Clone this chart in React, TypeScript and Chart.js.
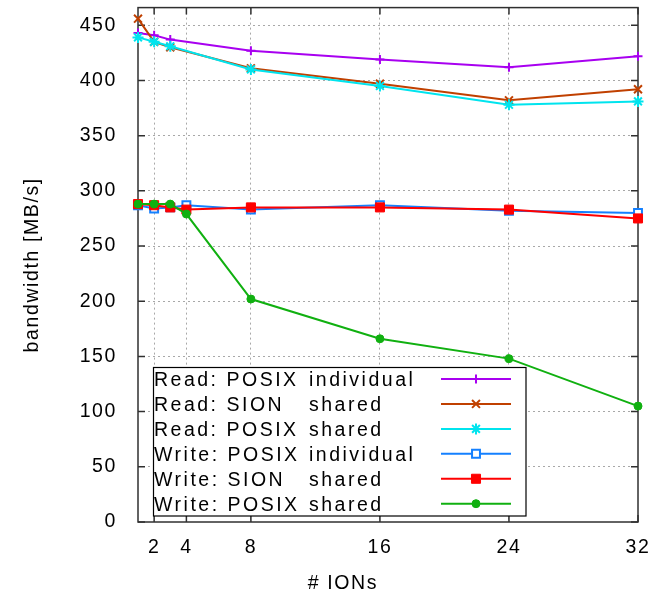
import React, { useEffect, useRef } from "react";
import { Chart, registerables } from "chart.js";

Chart.register(...registerables);

// ---- data ----
const X_READ = [1, 2, 3, 8, 16, 24, 32];
const X_WRITE = [1, 2, 3, 4, 8, 16, 24, 32];
const X_TICKS = [2, 4, 8, 16, 24, 32];
const Y_TICKS = [0, 50, 100, 150, 200, 250, 300, 350, 400, 450];

const READ_POSIX_INDIVIDUAL = [443, 441, 437, 427, 419, 412, 422];
const READ_SION_SHARED = [456, 435, 430, 411, 397, 382, 392];
const READ_POSIX_SHARED = [439, 435, 431, 410, 395, 378, 381];
const WRITE_POSIX_INDIVIDUAL = [287, 284, 285, 287, 283, 287, 282, 280];
const WRITE_SION_SHARED = [288, 287, 285, 283, 285, 285, 283, 275];
const WRITE_POSIX_SHARED = [288, 288, 288, 279, 202, 166, 148, 105];

const SERIES_LABELS = [
  "Read: POSIX individual",
  "Read: SION   shared",
  "Read: POSIX shared",
  "Write: POSIX individual",
  "Write: SION   shared",
  "Write: POSIX shared",
];
const X_TITLE = "# IONs";
const Y_TITLE = "bandwidth [MB/s]";

const FONT = "'Liberation Sans', Arial, Helvetica, sans-serif";
const FONT_SIZE = 19.5;

type Marker = { style: string; radius: number; fill: string; borderWidth: number };

const COLORS = ["#a800f0", "#c04000", "#00e4ee", "#1480ff", "#ff0000", "#10b010"];
const MARKERS: Marker[] = [
  { style: "cross", radius: 4.5, fill: "#a800f0", borderWidth: 2 },
  { style: "crossRot", radius: 5.6, fill: "#c04000", borderWidth: 2 },
  { style: "star", radius: 5.5, fill: "#00e4ee", borderWidth: 2 },
  { style: "rect", radius: 5.6, fill: "#ffffff", borderWidth: 2 },
  { style: "rect", radius: 6.4, fill: "#ff0000", borderWidth: 1 },
  { style: "circle", radius: 4, fill: "#10b010", borderWidth: 1 },
];

function pts(xs: number[], ys: number[]) {
  return xs.map((x, i) => ({ x, y: ys[i] }));
}

function drawMarker(ctx: CanvasRenderingContext2D, m: Marker, color: string, x: number, y: number) {
  const r = m.radius;
  ctx.save();
  ctx.strokeStyle = color;
  ctx.fillStyle = m.fill;
  ctx.lineWidth = m.borderWidth;
  ctx.beginPath();
  if (m.style === "cross" || m.style === "star") {
    ctx.moveTo(x - r, y);
    ctx.lineTo(x + r, y);
    ctx.moveTo(x, y - r);
    ctx.lineTo(x, y + r);
  }
  if (m.style === "crossRot" || m.style === "star") {
    const d = r * Math.SQRT1_2;
    ctx.moveTo(x - d, y - d);
    ctx.lineTo(x + d, y + d);
    ctx.moveTo(x - d, y + d);
    ctx.lineTo(x + d, y - d);
  }
  if (m.style === "cross" || m.style === "crossRot" || m.style === "star") {
    ctx.stroke();
  } else if (m.style === "rect") {
    const s = r * Math.SQRT1_2;
    ctx.rect(x - s, y - s, 2 * s, 2 * s);
    ctx.fill();
    ctx.stroke();
  } else if (m.style === "circle") {
    ctx.arc(x, y, r, 0, Math.PI * 2);
    ctx.fill();
    ctx.stroke();
  }
  ctx.restore();
}

const spacingPlugin = {
  id: "letterSpacing",
  beforeUpdate(chart: any) {
    chart.ctx.letterSpacing = "1.6px";
  },
  beforeDraw(chart: any) {
    chart.ctx.letterSpacing = "1.6px";
  },
};

const framePlugin = {
  id: "frame",
  beforeDatasetsDraw(chart: any) {
    const { ctx, chartArea: a, scales } = chart;
    ctx.save();
    ctx.strokeStyle = "#303030";
    ctx.lineWidth = 1.5;
    const tl = 7;
    ctx.beginPath();
    X_TICKS.forEach((v) => {
      const px = scales.x.getPixelForValue(v);
      ctx.moveTo(px, a.bottom);
      ctx.lineTo(px, a.bottom - tl);
      ctx.moveTo(px, a.top);
      ctx.lineTo(px, a.top + tl);
    });
    Y_TICKS.forEach((v) => {
      const py = scales.y.getPixelForValue(v);
      ctx.moveTo(a.left, py);
      ctx.lineTo(a.left + tl, py);
      ctx.moveTo(a.right, py);
      ctx.lineTo(a.right - tl, py);
    });
    ctx.stroke();
    ctx.strokeRect(a.left, a.top, a.right - a.left, a.bottom - a.top);
    ctx.restore();
  },
  afterDatasetsDraw(chart: any) {
    const { ctx } = chart;
    ctx.save();
    // legend box
    const bx = 153.5, by = 367.5, bw = 372.5, bh = 148.5;
    ctx.fillStyle = "#ffffff";
    ctx.fillRect(bx, by, bw, bh);
    ctx.strokeStyle = "#000000";
    ctx.lineWidth = 1.2;
    ctx.strokeRect(bx, by, bw, bh);
    ctx.font = `${FONT_SIZE}px ${FONT}`;
    ctx.letterSpacing = "2.5px";
    ctx.fillStyle = "#000000";
    ctx.textBaseline = "alphabetic";
    ctx.textAlign = "left";
    chart.data.datasets.forEach((ds: any, i: number) => {
      const cy = 379 + 24.94 * i;
      const label: string = ds.label;
      const idx = label.lastIndexOf(" ");
      const head = label.slice(0, idx).trimEnd();
      const tail = label.slice(idx + 1);
      ctx.fillText(head, 154, cy + 7);
      ctx.fillText(tail, 309, cy + 7);
      ctx.save();
      ctx.strokeStyle = COLORS[i];
      ctx.lineWidth = 2;
      ctx.beginPath();
      ctx.moveTo(441, cy);
      ctx.lineTo(511, cy);
      ctx.stroke();
      ctx.restore();
      drawMarker(ctx, MARKERS[i], COLORS[i], 476, cy);
    });
    // x axis title
    ctx.textAlign = "center";
    ctx.letterSpacing = "1.6px";
    ctx.fillText(X_TITLE, 343, 589);
    ctx.restore();
  },
};

export default function App() {
  const ref = useRef<HTMLCanvasElement | null>(null);

  useEffect(() => {
    if (!ref.current) return;
    const series = [
      pts(X_READ, READ_POSIX_INDIVIDUAL),
      pts(X_READ, READ_SION_SHARED),
      pts(X_READ, READ_POSIX_SHARED),
      pts(X_WRITE, WRITE_POSIX_INDIVIDUAL),
      pts(X_WRITE, WRITE_SION_SHARED),
      pts(X_WRITE, WRITE_POSIX_SHARED),
    ];
    const chart = new Chart(ref.current, {
      type: "line",
      data: {
        datasets: series.map((data, i) => ({
          label: SERIES_LABELS[i],
          data,
          borderColor: COLORS[i],
          borderWidth: 2,
          pointStyle: MARKERS[i].style as any,
          pointRadius: MARKERS[i].radius,
          pointBorderWidth: MARKERS[i].borderWidth,
          pointBorderColor: COLORS[i],
          pointBackgroundColor: MARKERS[i].fill,
          tension: 0,
          fill: false,
          clip: false as any,
          order: series.length - i,
        })),
      },
      options: {
        responsive: true,
        maintainAspectRatio: false,
        animation: false,
        layout: { padding: { top: 7, right: 31, bottom: 0, left: 0 } },
        plugins: {
          legend: { display: false },
          tooltip: { enabled: false },
        },
        scales: {
          x: {
            type: "linear",
            min: 1,
            max: 32,
            afterBuildTicks: (s: any) => {
              s.ticks = X_TICKS.map((v) => ({ value: v }));
            },
            afterFit: (s: any) => {
              s.height = 71;
              s.paddingLeft = 0;
              s.paddingRight = 0;
              s.paddingTop = 0;
              s.paddingBottom = 0;
            },
            ticks: {
              color: "#000",
              font: { family: FONT, size: FONT_SIZE },
              padding: 14,
              maxRotation: 0,
              autoSkip: false,
            },
            grid: {
              drawTicks: false,
              lineWidth: 1,
              color: (c: any) => (c.tick && c.tick.value === 32 ? "rgba(0,0,0,0)" : "#a8a8a8"),
            },
            border: { display: false, dash: [2, 3] },
          },
          y: {
            type: "linear",
            min: 0,
            max: 466,
            afterBuildTicks: (s: any) => {
              s.ticks = Y_TICKS.map((v) => ({ value: v }));
            },
            afterFit: (s: any) => {
              s.width = 138;
              s.paddingLeft = 0;
              s.paddingRight = 0;
              s.paddingTop = 0;
              s.paddingBottom = 0;
            },
            ticks: {
              color: "#000",
              font: { family: FONT, size: FONT_SIZE },
              padding: 21,
            },
            grid: {
              drawTicks: false,
              lineWidth: 1,
              color: (c: any) => (c.tick && c.tick.value === 0 ? "rgba(0,0,0,0)" : "#a8a8a8"),
            },
            border: { display: false, dash: [2, 3] },
            title: {
              display: true,
              text: Y_TITLE,
              color: "#000",
              font: { family: FONT, size: FONT_SIZE },
              padding: { top: 21, bottom: 0 },
            },
          },
        },
      },
      plugins: [spacingPlugin, framePlugin],
    });
    return () => chart.destroy();
  }, []);

  return (
    <div style={{ position: "absolute", left: 0, top: 0, width: 669, height: 593, background: "#fff" }}>
      <canvas ref={ref} />
    </div>
  );
}
